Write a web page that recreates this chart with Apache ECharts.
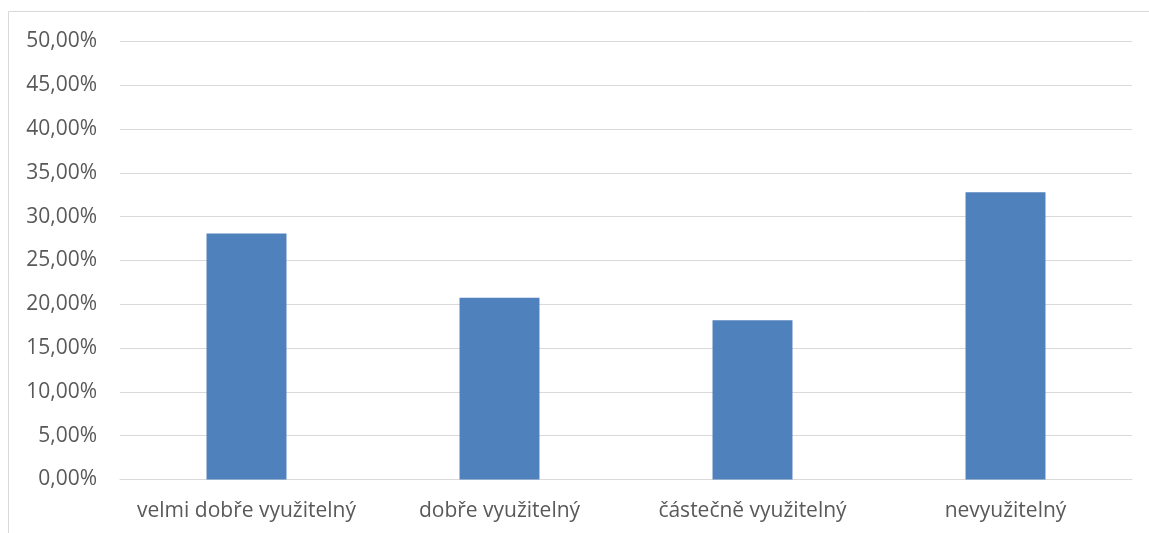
<!DOCTYPE html>
<html>
<head>
<meta charset="utf-8">
<script src="https://cdn.jsdelivr.net/npm/echarts@6/dist/echarts.min.js"></script>
<style>
html,body{margin:0;padding:0;background:#fff;}
#chart{width:1149px;height:533px;}
</style>
</head>
<body>
<div id="chart"></div>
<script>
const categories = ['velmi dobře využitelný', 'dobře využitelný', 'částečně využitelný', 'nevyužitelný'];
const values = [28.07, 20.76, 18.18, 32.78];
const yTicks = { min: 0, max: 50, interval: 5 };

const chart = echarts.init(document.getElementById('chart'));
const font = '"Open Sans", "Liberation Sans", sans-serif';
chart.setOption({
  animation: false,
  backgroundColor: '#ffffff',
  graphic: [{
    type: 'rect',
    shape: { x: 8.5, y: 11.5, width: 1300, height: 700 },
    style: { fill: 'none', stroke: '#d9d9d9', lineWidth: 1 },
    silent: true
  }],
  grid: { left: 120, right: 17, top: 41.5, bottom: 53.5, containLabel: false },
  xAxis: {
    type: 'category',
    data: categories,
    axisTick: { show: false },
    axisLine: { show: true, lineStyle: { color: '#d9d9d9', width: 1 } },
    axisLabel: { color: '#595959', fontSize: 21, fontFamily: font, margin: 21, interval: 0, hideOverlap: false }
  },
  yAxis: {
    type: 'value',
    min: yTicks.min, max: yTicks.max, interval: yTicks.interval,
    axisLine: { show: false },
    axisTick: { show: false },
    splitLine: { lineStyle: { color: '#d9d9d9', width: 1 } },
    axisLabel: {
      color: '#595959', fontSize: 21, fontFamily: font, margin: 23,
      formatter: v => v.toFixed(2).replace('.', ',') + '%'
    }
  },
  series: [{
    type: 'bar',
    data: values,
    barWidth: '31.6%',
    itemStyle: { color: '#4F81BD' }
  }]
});
</script>
</body>
</html>
